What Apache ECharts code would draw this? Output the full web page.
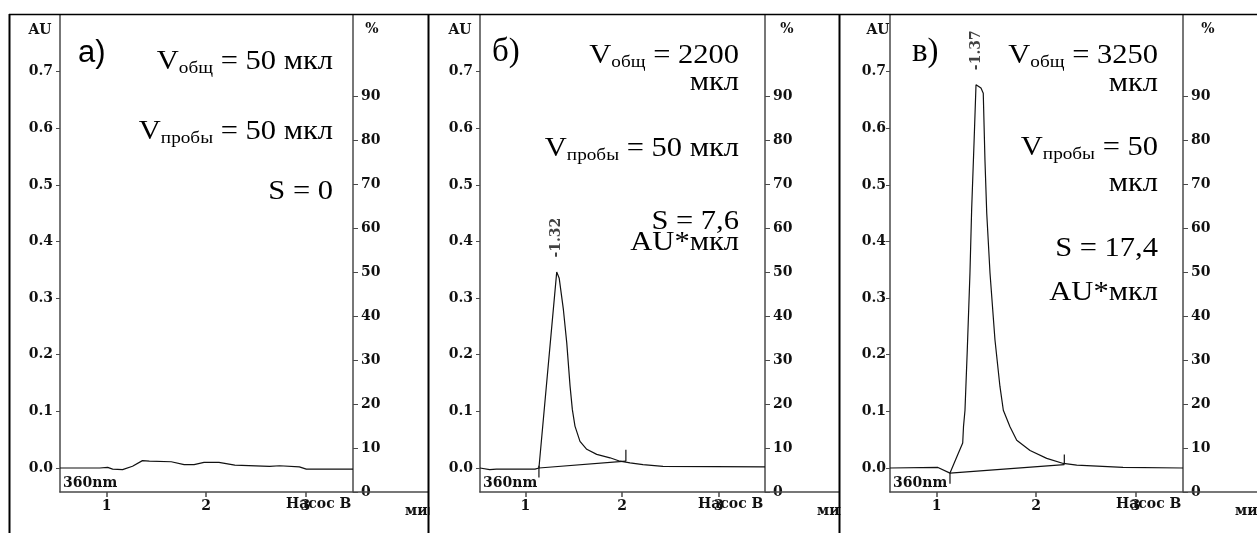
<!DOCTYPE html>
<html><head><meta charset="utf-8">
<script src="https://cdn.jsdelivr.net/npm/echarts@6/dist/echarts.min.js"></script>
<style>html,body{margin:0;padding:0;background:#fff}#c{width:1257px;height:533px}</style>
</head><body><div id="c"></div>
<script>
// ---------------- data ----------------
const auTicks = [0, 0.1, 0.2, 0.3, 0.4, 0.5, 0.6, 0.7];
const pctTicks = [0, 10, 20, 30, 40, 50, 60, 70, 80, 90];
const minTicks = [1, 2, 3];

// panel а)
const timeA = [0.53, 0.93, 1.01, 1.06, 1.16, 1.26, 1.36, 1.43, 1.65, 1.78, 1.88, 1.98, 2.13, 2.29, 2.64, 2.74, 2.94, 3.01, 3.48];
const signalA = [0.0, 0.0, 0.001, -0.002, -0.003, 0.003, 0.013, 0.012, 0.011, 0.006, 0.006, 0.010, 0.010, 0.005, 0.003, 0.004, 0.002, -0.002, -0.002];

// panel б)
const timeB = [0.53, 0.63, 0.70, 1.10, 1.14, 1.324, 1.35, 1.393, 1.428, 1.462, 1.486, 1.513, 1.565, 1.635, 1.738, 1.876, 1.979, 2.083, 2.217, 2.424, 3.48];
const signalB = [0.0, -0.003, -0.002, -0.002, 0.0, 0.346, 0.335, 0.28, 0.221, 0.145, 0.103, 0.074, 0.047, 0.033, 0.024, 0.018, 0.012, 0.009, 0.006, 0.003, 0.002];
const baseTimeB = [1.14, 2.04];
const baseValB = [0.0, 0.012];
const markTimeB = [1.14, 2.04];
const markLowB = [-0.017, 0.012];
const markHighB = [0.004, 0.032];

// panel в)
const timeC = [0.53, 1.013, 1.134, 1.167, 1.218, 1.262, 1.270, 1.285, 1.308, 1.335, 1.352, 1.376, 1.396, 1.446, 1.469, 1.486, 1.504, 1.537, 1.587, 1.637, 1.671, 1.738, 1.806, 1.94, 2.108, 2.275, 2.41, 2.876, 3.48];
const signalC = [0.0, 0.001, -0.009, 0.005, 0.026, 0.044, 0.073, 0.102, 0.208, 0.344, 0.456, 0.574, 0.677, 0.671, 0.662, 0.544, 0.45, 0.344, 0.226, 0.144, 0.102, 0.073, 0.049, 0.031, 0.017, 0.008, 0.005, 0.001, 0.0];
const baseTimeC = [1.134, 2.285];
const baseValC = [-0.009, 0.006];
const markTimeC = [1.134, 2.285];
const markLowC = [-0.028, 0.006];
const markHighC = [-0.009, 0.024];

const peakLabels = ['', '-1.32', '-1.37'];
const panelLetters = ['а)', 'б)', 'в)'];
const notesA = ['V_{общ} = 50 мкл', 'V_{пробы} = 50 мкл', 'S = 0'];
const notesB = ['V_{общ} = 2200', 'мкл', 'V_{пробы} = 50 мкл', 'S = 7,6', 'AU*мкл'];
const notesC = ['V_{общ} = 3250', 'мкл', 'V_{пробы} = 50', 'мкл', 'S = 17,4', 'AU*мкл'];
const leftAxisName = 'AU';
const rightAxisName = '%';
const xAxisName = 'мин';
const pumpLabel = 'Насос B';
const wavelengthLabel = '360nm';

// ---------------- layout ----------------
const TOP = 15, BOTTOM = 492;
const panels = [
  {left: 60, right: 353, frame: 9.5, next: 428.5, lm: 7, auX: 40, pctX: 372, letterX: 78, letterFont: 'Liberation Sans', letterSize: 31,
   notes: notesA, noteRight: 333, noteBase: [71, 141, 201],
   time: timeA, signal: signalA},
  {left: 480, right: 765, frame: 428.5, next: 839.5, lm: 7, auX: 460, pctX: 787, letterX: 492, letterFont: 'Liberation Serif', letterSize: 33,
   notes: notesB, noteRight: 739, noteBase: [65, 92, 158, 231, 252],
   time: timeB, signal: signalB, baseT: baseTimeB, baseV: baseValB, mT: markTimeB, mL: markLowB, mH: markHighB},
  {left: 890, right: 1183, frame: 839.5, next: 1300, lm: 4, auX: 878, pctX: 1208, letterX: 912, letterFont: 'Liberation Serif', letterSize: 33,
   notes: notesC, noteRight: 1158, noteBase: [65, 93, 157, 193, 258, 302],
   time: timeC, signal: signalC, baseT: baseTimeC, baseV: baseValC, mT: markTimeC, mL: markLowC, mH: markHighC}
];

const AXIS_COLOR = '#4a4a4a';
const LINE_COLOR = '#111';
const labelFont = {fontFamily: 'DejaVu Serif', fontWeight: 'bold', fontSize: 14, color: '#111'};
const pair = (xs, ys) => xs.map((x, i) => [x, ys[i]]);

const grid = [], xAxis = [], yAxis = [], series = [], graphic = [];

panels.forEach((p, i) => {
  grid.push({left: p.left, top: TOP, width: p.right - p.left, height: BOTTOM - TOP, containLabel: false});
  xAxis.push({
    type: 'value', gridIndex: i, min: 0.53, max: 3.48,
    axisLine: {show: true, onZero: false, lineStyle: {color: AXIS_COLOR, width: 1.5}},
    axisTick: {show: true, length: 5, customValues: minTicks, lineStyle: {color: AXIS_COLOR, width: 1.5}},
    axisLabel: Object.assign({customValues: minTicks, margin: 7, formatter: v => String(v)}, labelFont),
    splitLine: {show: false}
  });
  yAxis.push({
    type: 'value', gridIndex: i, position: 'left', min: -0.0424, max: 0.8,
    axisLine: {show: true, onZero: false, lineStyle: {color: AXIS_COLOR, width: 1.5}},
    axisTick: {show: true, length: 4, customValues: auTicks, lineStyle: {color: AXIS_COLOR, width: 1}},
    axisLabel: Object.assign({customValues: auTicks, margin: p.lm, formatter: v => v.toFixed(1)}, labelFont),
    splitLine: {show: false}
  });
  yAxis.push({
    type: 'value', gridIndex: i, position: 'right', min: 0, max: 108.4,
    axisLine: {show: true, onZero: false, lineStyle: {color: AXIS_COLOR, width: 1.5}},
    axisTick: {show: true, length: 5, customValues: pctTicks, lineStyle: {color: AXIS_COLOR, width: 1}},
    axisLabel: Object.assign({customValues: pctTicks, margin: 8, formatter: v => String(v)}, labelFont),
    splitLine: {show: false}
  });
  const yi = i * 2;
  series.push({
    type: 'line', xAxisIndex: i, yAxisIndex: yi, data: pair(p.time, p.signal),
    showSymbol: false, symbol: 'none', smooth: false, silent: true,
    lineStyle: {color: LINE_COLOR, width: 1.2}, z: 3
  });
  if (p.baseT) {
    series.push({
      type: 'line', xAxisIndex: i, yAxisIndex: yi, data: pair(p.baseT, p.baseV),
      showSymbol: false, symbol: 'none', silent: true, lineStyle: {color: LINE_COLOR, width: 1.2}, z: 3
    });
    p.mT.forEach((t, k) => {
      series.push({
        type: 'line', xAxisIndex: i, yAxisIndex: yi, data: [[t, p.mL[k]], [t, p.mH[k]]],
        showSymbol: false, symbol: 'none', silent: true, lineStyle: {color: LINE_COLOR, width: 1.2}, z: 3
      });
    });
    let pk = 0;
    p.signal.forEach((v, k) => { if (v > p.signal[pk]) pk = k; });
    series.push({
      type: 'scatter', xAxisIndex: i, yAxisIndex: yi, data: [[p.time[pk], p.signal[pk]]],
      symbolSize: 1, itemStyle: {color: 'rgba(0,0,0,0)'}, silent: true, z: 4,
      label: {show: true, position: 'top', distance: 14, rotate: 90, align: 'left', verticalAlign: 'middle',
              formatter: peakLabels[i], fontFamily: 'DejaVu Serif', fontWeight: 'bold', fontSize: 14, color: '#111'}
    });
  }

  const txt = (text, x, y, align, extra) => Object.assign({
    type: 'text', x: x, y: y, z: 5, silent: true,
    style: {text: text, align: align, verticalAlign: 'middle', fill: '#111',
            font: 'bold 14px "DejaVu Serif"'}
  }, extra || {});
  graphic.push(txt(leftAxisName, p.auX, 30, 'center'));
  graphic.push(txt(rightAxisName, p.pctX, 29, 'center'));
  graphic.push(txt(pumpLabel, p.right - 67, 504, 'left'));
  graphic.push(txt(wavelengthLabel, p.left + 3, 483, 'left'));
  graphic.push(txt(xAxisName, p.right + 52, 511, 'left', {z: 4}));
  graphic.push({type: 'line', z: 5, silent: true, shape: {x1: p.right, y1: BOTTOM, x2: p.next, y2: BOTTOM},
                style: {stroke: AXIS_COLOR, lineWidth: 1.5}});
  if (p.next < 1257) {
    graphic.push({type: 'rect', z: 6, silent: true, shape: {x: p.next + 1, y: 500, width: 24, height: 24}, style: {fill: '#fff'}});
  }
  graphic.push({type: 'text', x: p.letterX, y: 64 - 0.34 * p.letterSize, z: 5, silent: true,
                style: {text: panelLetters[i], align: 'left', verticalAlign: 'middle', fill: '#000',
                        font: p.letterSize + 'px "' + p.letterFont + '"'}});
  p.notes.forEach((n, k) => {
    const m = n.match(/^(.*?)_\{(.*?)\}(.*)$/);
    const rt = m ? ((m[1] ? '{m|' + m[1] + '}' : '') + '{s|' + m[2] + '}' + (m[3] ? '{m|' + m[3] + '}' : '')) : '{m|' + n + '}';
    graphic.push({type: 'text', x: p.noteRight, y: p.noteBase[k] - 9.2, scaleX: 1.13, z: 5, silent: true,
      style: {text: rt, align: 'right', verticalAlign: 'middle',
        rich: {
          m: {fontFamily: 'Liberation Serif', fontSize: 27, lineHeight: 30, fill: '#000', verticalAlign: 'middle'},
          s: {fontFamily: 'Liberation Serif', fontSize: 17, lineHeight: 14, fill: '#000', verticalAlign: 'bottom'}
        }}});
  });
});

graphic.push({type: 'line', z: 7, silent: true, shape: {x1: 9, y1: 14.5, x2: 1257, y2: 14.5}, style: {stroke: '#000', lineWidth: 1.5}});
[9.5, 428.5, 839.5].forEach(x => {
  graphic.push({type: 'line', z: 7, silent: true, shape: {x1: x, y1: 14, x2: x, y2: 533}, style: {stroke: '#000', lineWidth: 2}});
});

const chart = echarts.init(document.getElementById('c'), null, {renderer: 'canvas', width: 1257, height: 533});
chart.setOption({
  animation: false,
  backgroundColor: '#fff',
  grid: grid, xAxis: xAxis, yAxis: yAxis, series: series, graphic: graphic
});
</script></body></html>
